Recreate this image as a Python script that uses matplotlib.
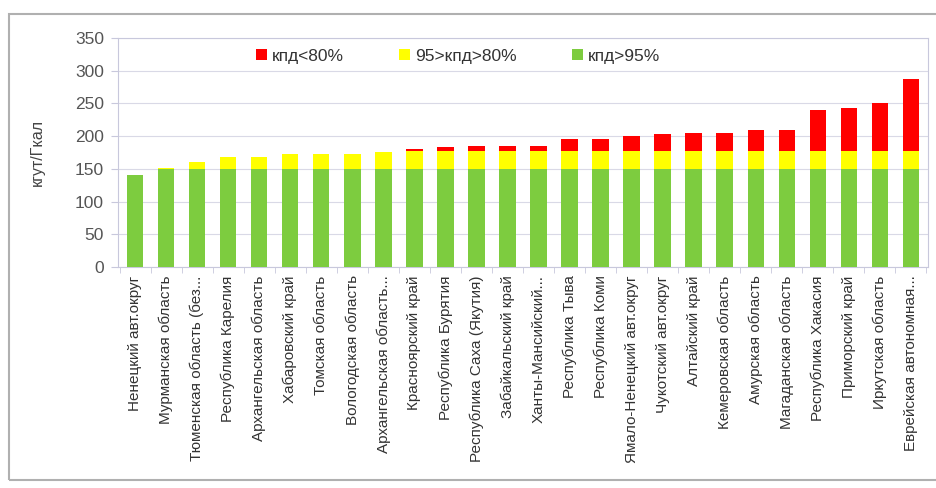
import numpy as np
import matplotlib.pyplot as plt
from matplotlib.patches import Rectangle

plt.rcParams['font.family'] = ['Liberation Sans', 'DejaVu Sans']

regions = ['Ненецкий авт.округ', 'Мурманская область', 'Тюменская область (без...',
           'Республика Карелия', 'Архангельская область', 'Хабаровский край',
           'Томская область', 'Вологодская область', 'Архангельская область...',
           'Красноярский край', 'Республика Бурятия', 'Республика Саха (Якутия)',
           'Забайкальский край', 'Ханты-Мансийский...', 'Республика Тыва',
           'Республика Коми', 'Ямало-Ненецкий авт.округ', 'Чукотский авт.округ',
           'Алтайский край', 'Кемеровская область', 'Амурская область',
           'Магаданская область', 'Республика Хакасия', 'Приморский край',
           'Иркутская область', 'Еврейская автономная...']

# кпд>95%
green = [140, 150, 150, 150, 150, 150, 150, 150, 150, 150, 150, 150, 150,
         150, 150, 150, 150, 150, 150, 150, 150, 150, 150, 150, 150, 150]
# 95>кпд>80%
yellow = [0, 2, 10, 18, 18, 22, 23, 23, 26, 27, 27, 28, 28,
          28, 28, 28, 28, 28, 28, 28, 28, 28, 28, 28, 28, 28]
# кпд<80%
red = [0, 0, 0, 0, 0, 0, 0, 0, 0, 3, 6, 7, 7,
       7, 17, 17, 22, 25, 27, 27, 31, 31, 62, 65, 73, 110]

fig = plt.figure(figsize=(9.37, 4.88), dpi=100)
ax = fig.add_axes([118/937, 1-267/488, 810/937, 229/488])

x = np.arange(len(regions))
g = np.array(green)
y = np.array(yellow)
r = np.array(red)
w = 0.53
ax.bar(x, r, w, bottom=g + y, color='#ff0000', label='кпд<80%', zorder=3)
ax.bar(x, y, w, bottom=g, color='#ffff00', label='95>кпд>80%', zorder=3)
ax.bar(x, g, w, color='#7dcc3f', label='кпд>95%', zorder=3)

ax.set_xlim(-0.55, len(regions) - 0.45)
ax.set_ylim(0, 350)
ax.set_yticks(range(0, 351, 50))
ax.yaxis.grid(True, color='#d9d9e6', linewidth=0.8, zorder=0)
ax.set_xticks(x)
ax.set_xticklabels(regions, rotation=90, fontsize=11, color='#333333')
ax.set_xticks(np.arange(len(regions) + 1) - 0.5, minor=True)
ax.tick_params(axis='x', which='minor', length=4, color='#c8c8dc')
ax.tick_params(axis='y', labelsize=12.5, colors='#555555', length=5, pad=5)
ax.tick_params(axis='y', color='#c8c8dc')
ax.tick_params(axis='x', which='major', length=0, pad=6)
for s in ax.spines.values():
    s.set_color('#c8c8dc')
ax.set_ylabel('кгут/Гкал', fontsize=11.5, color='#444444', labelpad=22)

ax.legend(loc='upper center', bbox_to_anchor=(0.42, 1.02), ncol=3, frameon=False,
          fontsize=12.5, handlelength=0.6, handleheight=0.6, columnspacing=3.2,
          handletextpad=0.3, labelcolor='#333333')

# outer chart frame
fig.patches.append(Rectangle((9/937, 8/488), 1.0, 1-22/488, transform=fig.transFigure,
                             fill=False, edgecolor='#b0b0b0', linewidth=1.5))

fig.savefig('out.png', dpi=100)
